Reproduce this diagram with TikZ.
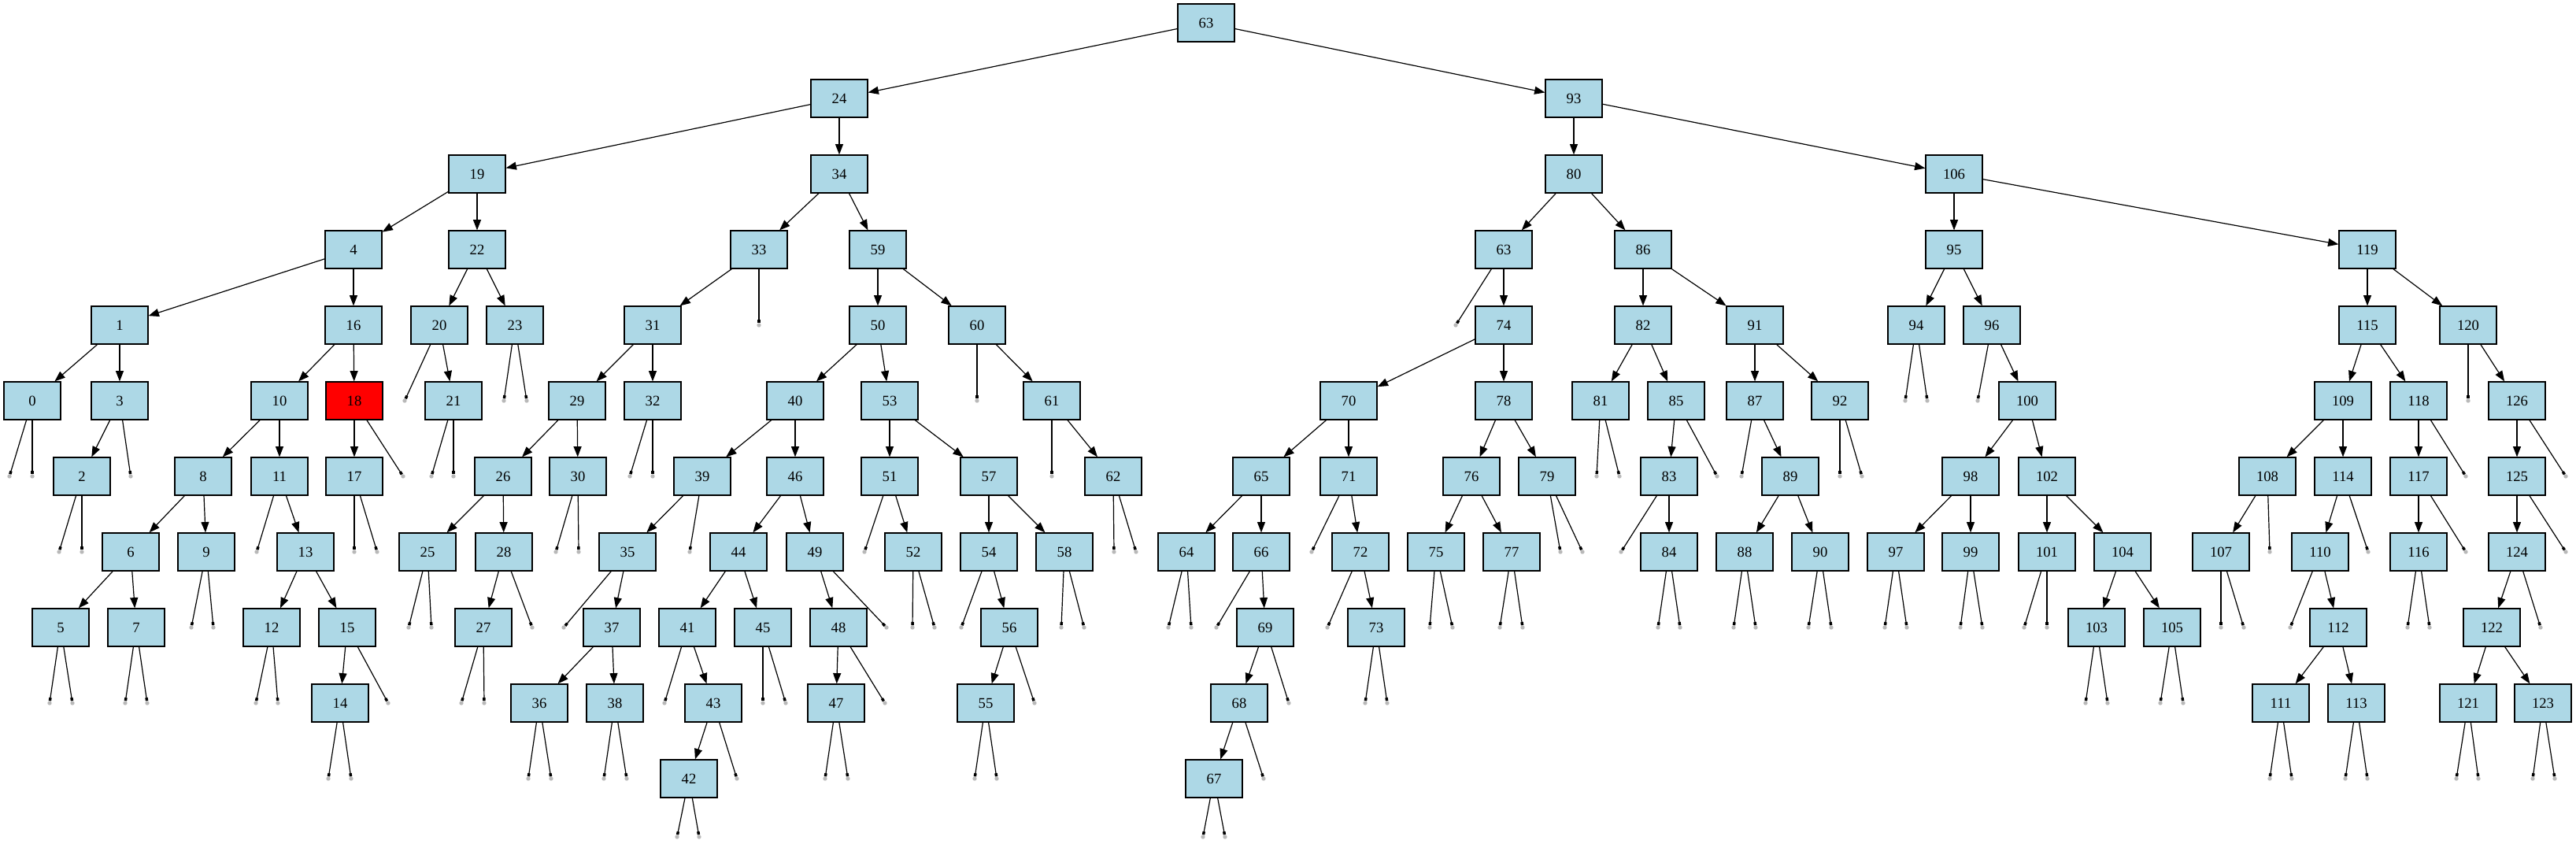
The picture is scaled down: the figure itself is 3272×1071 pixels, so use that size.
\documentclass[tikz,border=0pt]{standalone}
\usepackage{fontspec}
\setmainfont{Liberation Serif}
\usetikzlibrary{arrows.meta}
\definecolor{keyblue}{RGB}{173,216,230}

\begin{document}
\begin{tikzpicture}[
			% GLOBAL CFG
			x=0.75pt, y=-0.75pt,
			font=\fontsize{14}{16}\selectfont,
			% Styles
			keybox/.style={% For the tree nodes
				rectangle,
				draw=black,
				line width=0.9pt,
				fill=keyblue,
				minimum width=54pt,
				minimum height=36pt,
				inner sep=0pt,
			},
			found/.style={% The highlighted node
				keybox,
				fill=red,
			},
			nil/.style={% For the empty subtrees
				circle,
				fill=gray!55,
				minimum size=4pt,
				inner sep=0pt,
			},
			link/.style={% Parent to child
				line width=0.9pt,
				-{Triangle[length=10pt,width=7.5pt]},
			},
			nillink/.style={% Parent to empty subtree
				line width=0.9pt,
				-{Square[length=3pt,width=2.6pt]},
			},
			]
			\useasboundingbox (0,0) rectangle (3272,1071);
			
			% Draw the keys, one rank after the other
			\node[keybox] (n63) at (1532,29) {63};
			\foreach \k/\x in {24/1066, 93/1999}
				\node[keybox] (n\k) at (\x,125) {\k};
			\foreach \k/\x in {19/606, 34/1066, 80/1999, 106/2482}
				\node[keybox] (n\k) at (\x,221) {\k};
			\foreach \k/\x in {4/449, 22/606, 33/964, 59/1115, 86/2087, 95/2482, 119/3007}
				\node[keybox] (n\k) at (\x,317) {\k};
			\node[keybox] (n63b) at (1910,317) {63};
			\foreach \k/\x in {1/152, 16/449, 20/558, 23/654, 31/829, 50/1115, 60/1241, 74/1910, 82/2087, 91/2229, 94/2434, 96/2530, 115/3007, 120/3135}
				\node[keybox] (n\k) at (\x,413) {\k};
			\foreach \k/\x in {0/41, 3/152, 10/355, 21/576, 29/733, 32/829, 40/1010, 53/1130, 61/1336, 70/1713, 78/1910, 81/2033, 85/2129, 87/2229, 92/2337, 100/2575, 109/2976, 118/3072, 126/3197}
				\node[keybox] (n\k) at (\x,509) {\k};
			\node[found] (n18) at (450,509) {18};
			\foreach \k/\x in {2/104, 8/258, 11/355, 17/450, 26/639, 30/734, 39/892, 46/1010, 51/1130, 57/1256, 62/1414, 65/1602, 71/1713, 76/1869, 79/1965, 83/2120, 89/2274, 98/2503, 102/2600, 108/2880, 114/2976, 117/3072, 125/3197}
				\node[keybox] (n\k) at (\x,605) {\k};
			\foreach \k/\x in {6/166, 9/262, 13/388, 25/543, 28/640, 35/797, 44/938, 49/1035, 52/1160, 54/1256, 58/1352, 64/1507, 66/1602, 72/1728, 75/1824, 77/1920, 84/2120, 88/2216, 90/2312, 97/2408, 99/2503, 101/2600, 104/2696, 107/2821, 110/2947, 116/3072, 124/3197}
				\node[keybox] (n\k) at (\x,701) {\k};
			\foreach \k/\x in {5/77, 7/173, 12/345, 15/441, 27/614, 37/777, 41/873, 45/969, 48/1065, 56/1282, 69/1607, 73/1748, 103/2663, 105/2759, 112/2970, 122/3165}
				\node[keybox] (n\k) at (\x,797) {\k};
			\foreach \k/\x in {14/432, 36/685, 38/781, 43/906, 47/1062, 55/1252, 68/1574, 111/2897, 113/2993, 121/3135, 123/3230}
				\node[keybox] (n\k) at (\x,893) {\k};
			\foreach \k/\x in {42/875, 67/1542}
				\node[keybox] (n\k) at (\x,989) {\k};
			
			% Drawing arrows between keys
			\foreach \p/\c in {63/24, 63/93, 24/19, 24/34, 93/80, 93/106,
				19/4, 19/22, 34/33, 34/59, 80/63b, 80/86, 106/95, 106/119,
				4/1, 4/16, 22/20, 22/23, 33/31, 59/50, 59/60, 63b/74, 86/82, 86/91, 95/94, 95/96, 119/115, 119/120,
				1/0, 1/3, 16/10, 16/18, 20/21, 31/29, 31/32, 50/40, 50/53, 60/61, 74/70, 74/78, 82/81, 82/85, 91/87, 91/92, 96/100, 115/109, 115/118, 120/126,
				3/2, 10/8, 10/11, 18/17, 29/26, 29/30, 40/39, 40/46, 53/51, 53/57, 61/62, 70/65, 70/71, 78/76, 78/79, 85/83, 87/89, 100/98, 100/102, 109/108, 109/114, 118/117, 126/125,
				8/6, 8/9, 11/13, 26/25, 26/28, 39/35, 46/44, 46/49, 51/52, 57/54, 57/58, 65/64, 65/66, 71/72, 76/75, 76/77, 83/84, 89/88, 89/90, 98/97, 98/99, 102/101, 102/104, 108/107, 114/110, 117/116, 125/124,
				6/5, 6/7, 13/12, 13/15, 28/27, 35/37, 44/41, 44/45, 49/48, 54/56, 66/69, 72/73, 104/103, 104/105, 110/112, 124/122,
				15/14, 37/36, 37/38, 41/43, 48/47, 56/55, 69/68, 112/111, 112/113, 122/121, 122/123,
				43/42, 68/67}
				\draw[link] (n\p) -- (n\c);
			
			% Empty subtrees, named after their parent
			\foreach \p/\s/\x in {33/r/964, 63b/l/1849} {
				\node[nil] (z\p\s) at (\x,413) {};
				\draw[nillink] (n\p) -- (z\p\s);
			}
			\foreach \p/\s/\x in {20/l/514, 23/l/640, 23/r/669, 60/l/1241, 94/l/2420, 94/r/2448, 96/l/2512, 120/l/3135} {
				\node[nil] (z\p\s) at (\x,509) {};
				\draw[nillink] (n\p) -- (z\p\s);
			}
			\foreach \p/\s/\x in {0/l/12, 0/r/41, 3/r/166, 18/r/512, 21/l/548, 21/r/576, 32/l/800, 32/r/829, 61/l/1336, 81/l/2028, 81/r/2057, 85/r/2181, 87/l/2212, 92/l/2337, 92/r/2365, 118/r/3132, 126/r/3259} {
				\node[nil] (z\p\s) at (\x,605) {};
				\draw[nillink] (n\p) -- (z\p\s);
			}
			\foreach \p/\s/\x in {2/l/75, 2/r/104, 11/l/326, 17/l/450, 17/r/479, 30/l/706, 30/r/735, 39/r/876, 51/l/1098, 62/l/1415, 62/r/1443, 71/l/1666, 79/l/1982, 79/r/2010, 83/l/2059, 108/r/2883, 114/r/3008, 117/r/3132, 125/r/3259} {
				\node[nil] (z\p\s) at (\x,701) {};
				\draw[nillink] (n\p) -- (z\p\s);
			}
			\foreach \p/\s/\x in {9/l/243, 9/r/271, 25/l/519, 25/r/548, 28/r/676, 35/l/716, 49/r/1126, 52/l/1159, 52/r/1187, 54/l/1221, 58/l/1348, 58/r/1377, 64/l/1484, 64/r/1513, 66/l/1545, 72/l/1686, 75/l/1816, 75/r/1845, 77/l/1905, 77/r/1934, 84/l/2106, 84/r/2134, 88/l/2202, 88/r/2230, 90/l/2297, 90/r/2326, 97/l/2394, 97/r/2422, 99/l/2490, 99/r/2518, 101/l/2571, 101/r/2600, 107/l/2821, 107/r/2850, 110/l/2909, 116/l/3058, 116/r/3086, 124/r/3227} {
				\node[nil] (z\p\s) at (\x,797) {};
				\draw[nillink] (n\p) -- (z\p\s);
			}
			\foreach \p/\s/\x in {5/l/63, 5/r/92, 7/l/159, 7/r/187, 12/l/325, 12/r/353, 15/r/493, 27/l/586, 27/r/615, 41/l/844, 45/l/969, 45/r/998, 48/r/1124, 56/r/1314, 69/r/1637, 73/l/1734, 73/r/1762, 103/l/2649, 103/r/2677, 105/l/2744, 105/r/2773} {
				\node[nil] (z\p\s) at (\x,893) {};
				\draw[nillink] (n\p) -- (z\p\s);
			}
			\foreach \p/\s/\x in {14/l/417, 14/r/446, 36/l/671, 36/r/700, 38/l/767, 38/r/796, 43/r/936, 47/l/1048, 47/r/1077, 55/l/1238, 55/r/1266, 68/r/1605, 111/l/2883, 111/r/2911, 113/l/2979, 113/r/3007, 121/l/3120, 121/r/3148, 123/l/3217, 123/r/3245} {
				\node[nil] (z\p\s) at (\x,989) {};
				\draw[nillink] (n\p) -- (z\p\s);
			}
			\foreach \p/\s/\x in {42/l/860, 42/r/888, 67/l/1528, 67/r/1556} {
				\node[nil] (z\p\s) at (\x,1063) {};
				\draw[nillink] (n\p) -- (z\p\s);
			}
		\end{tikzpicture}
\end{document}
